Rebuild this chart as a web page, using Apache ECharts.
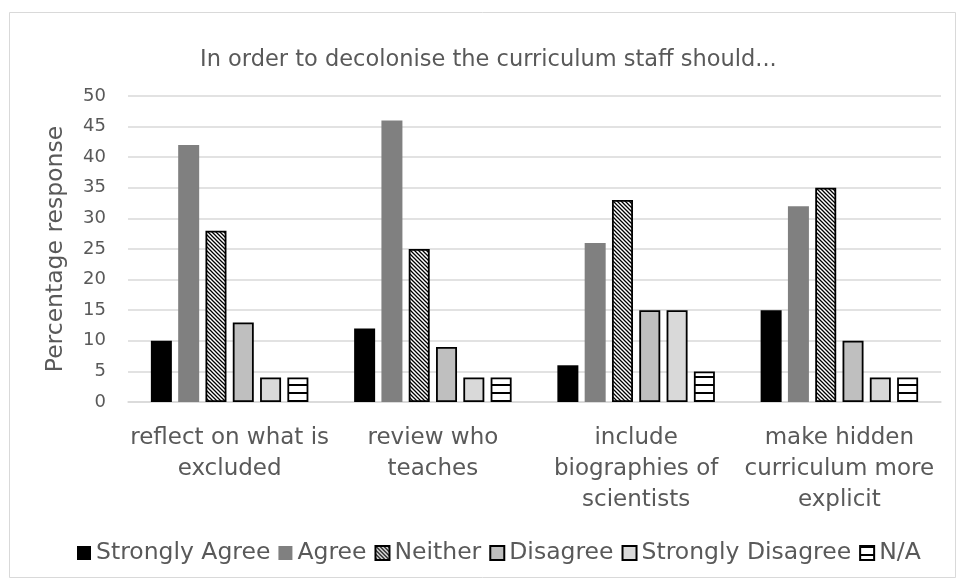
<!DOCTYPE html>
<html>
<head>
<meta charset="utf-8">
<script src="https://cdn.jsdelivr.net/npm/echarts@6/dist/echarts.min.js"></script>
<style>
html,body{margin:0;padding:0;background:#fff;}
#chart{width:958px;height:581px;}
</style>
</head>
<body>
<div id="chart"></div>
<script>
const categories = [
  "reflect on what is\nexcluded",
  "review who\nteaches",
  "include\nbiographies of\nscientists",
  "make hidden\ncurriculum more\nexplicit"
];
const seriesNames = ["Strongly Agree", "Agree", "Neither", "Disagree", "Strongly Disagree", "N/A"];
const stronglyAgree = [10, 12, 6, 15];
const agree = [42, 46, 26, 32];
const neither = [28, 25, 33, 35];
const disagree = [13, 9, 15, 10];
const stronglyDisagree = [4, 4, 15, 4];
const na = [4, 4, 5, 4];
const yTicks = { min: 0, max: 50, interval: 5 };

function diagPattern() {
  const c = document.createElement('canvas');
  c.width = 4; c.height = 4;
  const g = c.getContext('2d');
  g.fillStyle = '#fff'; g.fillRect(0, 0, 4, 4);
  g.strokeStyle = '#000'; g.lineWidth = 1.3;
  g.beginPath();
  g.moveTo(-1, -1); g.lineTo(5, 5);
  g.moveTo(-1, 3); g.lineTo(1, 5);
  g.moveTo(3, -1); g.lineTo(5, 1);
  g.stroke();
  return { image: c, repeat: 'repeat' };
}
function horizPattern() {
  const c = document.createElement('canvas');
  c.width = 8; c.height = 8;
  const g = c.getContext('2d');
  g.fillStyle = '#fff'; g.fillRect(0, 0, 8, 8);
  g.fillStyle = '#000'; g.fillRect(0, 0, 8, 2);
  return { image: c, repeat: 'repeat' };
}

const FONT = '"DejaVu Sans", sans-serif';
const TXT = '#595959';

const styles = [
  { color: '#000000', borderColor: '#000000', borderWidth: 0 },
  { color: '#808080', borderWidth: 0 },
  { color: diagPattern(), borderColor: '#000', borderWidth: 1.8 },
  { color: '#bfbfbf', borderColor: '#000', borderWidth: 1.8 },
  { color: '#d9d9d9', borderColor: '#000', borderWidth: 1.8 },
  { color: horizPattern(), borderColor: '#000', borderWidth: 1.8 }
];
const dataSets = [stronglyAgree, agree, neither, disagree, stronglyDisagree, na];

const chart = echarts.init(document.getElementById('chart'), null, { renderer: 'canvas' });
chart.setOption({
  animation: false,
  backgroundColor: '#fff',
  textStyle: { fontFamily: FONT },
  graphic: [{
    type: 'rect', silent: true, z: -10,
    shape: { x: 9.5, y: 12.5, width: 946, height: 565 },
    style: { fill: 'none', stroke: '#d9d9d9', lineWidth: 1 }
  }],
  title: {
    text: 'In order to decolonise the curriculum staff should...',
    left: 195, top: 44,
    textStyle: { fontFamily: FONT, fontSize: 22.5, fontWeight: 'normal', color: TXT }
  },
  legend: {
    data: seriesNames,
    icon: 'rect',
    left: 72, top: 536,
    itemWidth: 14, itemHeight: 14, itemGap: 8,
    textStyle: { fontFamily: FONT, fontSize: 23.5, color: TXT }
  },
  grid: { left: 128, right: 17, top: 96, bottom: 179, containLabel: false },
  xAxis: {
    type: 'category',
    data: categories,
    axisLine: { lineStyle: { color: '#d9d9d9', width: 1.5 } },
    axisTick: { show: false },
    axisLabel: { fontFamily: FONT, fontSize: 23, color: TXT, lineHeight: 31, margin: 21, interval: 0 }
  },
  yAxis: {
    type: 'value',
    min: yTicks.min, max: yTicks.max, interval: yTicks.interval,
    name: 'Percentage response',
    nameLocation: 'middle', nameGap: 60,
    nameTextStyle: { fontFamily: FONT, fontSize: 23.5, color: TXT },
    axisLine: { show: false },
    axisTick: { show: false },
    axisLabel: { fontFamily: FONT, fontSize: 18, color: TXT, margin: 22 },
    splitLine: { lineStyle: { color: '#d9d9d9', width: 1.5 } }
  },
  series: seriesNames.map((n, i) => ({
    name: n,
    type: 'bar',
    data: dataSets[i],
    barWidth: 21,
    barGap: '30%',
    itemStyle: styles[i]
  }))
});
</script>
</body>
</html>
